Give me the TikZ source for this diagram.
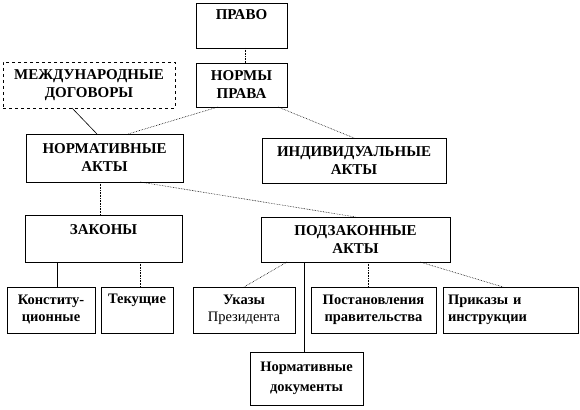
\documentclass[tikz,border=0pt]{standalone}
\usepackage{fontspec}
\setmainfont{Liberation Serif}
\usepackage{tikz}
\usetikzlibrary{positioning}

\begin{document}
\begin{tikzpicture}[x=1pt,y=-1pt,
  every node/.style={draw,line width=0.6pt,inner sep=0pt,outer sep=0pt,align=center},
  bigbox/.style={font=\fontsize{15}{18}\selectfont\bfseries},
  smallbox/.style={font=\fontsize{14.5}{17}\selectfont\bfseries,minimum height=46},
  dotlink/.style={draw,densely dotted,line width=0.6pt},
  solidlink/.style={draw,line width=0.6pt}]
\useasboundingbox (0,0) rectangle (580,409);
% upper levels
\node[bigbox,minimum width=91,minimum height=45] (pravo) at (241.5,25.5) {ПРАВО\\[-2pt] \strut};
\node[bigbox,minimum width=91,minimum height=44] (normy) at (241.5,85) {НОРМЫ\\ПРАВА};
\node[bigbox,dashed,minimum width=172,minimum height=46] (mezhd) at (89,85) {МЕЖДУНАРОДНЫЕ\\ДОГОВОРЫ};
\node[bigbox,minimum width=157,minimum height=48] (normakty) at (104.5,158) {НОРМАТИВНЫЕ\\АКТЫ};
\node[bigbox,minimum width=184,minimum height=45] (indiv) at (354,160.5) {ИНДИВИДУАЛЬНЫЕ\\АКТЫ};
\node[bigbox,minimum width=157,minimum height=47] (zakony) at (103.5,238.5) {ЗАКОНЫ\\[-6pt] \strut};
\node[bigbox,minimum width=189,minimum height=45] (podzak) at (355.5,239.5) {ПОДЗАКОННЫЕ\\АКТЫ};
% bottom row
\node[smallbox,minimum width=88] (konst) at (51,310) {Конститу-\\ционные};
\node[smallbox,minimum width=72] (tekush) at (137,310) {Текущие\\ \strut};
\node[smallbox,minimum width=102] (ukazy) at (244,310) {Указы\\{\mdseries Президента}};
\node[smallbox,minimum width=125] (postan) at (373.5,310) {Постановления\\правительства};
\node[smallbox,minimum width=135,text width=125,align=left] (prikazy) at (510.5,310) {Приказы и\\инструкции};
\node[smallbox,minimum width=113,minimum height=53] (normdok) at (306.5,378.5) {Нормативные\\[3pt]документы};

\path[dotlink] ([xshift=3.5pt]pravo.south) -- ([xshift=3.5pt]normy.north);
\path[dotlink] ([xshift=-23.5pt]normy.south) -- ([xshift=23.5pt]normakty.north);
\path[dotlink] ([xshift=36.5pt]normy.south) -- (indiv.north);
\path[solidlink] ([xshift=-17pt]mezhd.south) -- ([xshift=-7.5pt]normakty.north);
\path[dotlink] ([xshift=-4pt]normakty.south) -- ([xshift=-3pt]zakony.north);
\path[dotlink] ([xshift=35.5pt]normakty.south) -- (podzak.north);
\path[solidlink] ([xshift=-46.5pt]zakony.south) -- ([xshift=6pt]konst.north);
\path[dotlink] ([xshift=36.5pt]zakony.south) -- ([xshift=3pt]tekush.north);
\path[dotlink] ([xshift=-68.5pt]podzak.south) -- (ukazy.north);
\path[solidlink] ([xshift=-51.5pt]podzak.south) -- ([xshift=-2.5pt]normdok.north);
\path[dotlink] ([xshift=12.5pt]podzak.south) -- ([xshift=-5.5pt]postan.north);
\path[dotlink] ([xshift=64.5pt]podzak.south) -- ([xshift=-7.5pt]prikazy.north);
\end{tikzpicture}
\end{document}
